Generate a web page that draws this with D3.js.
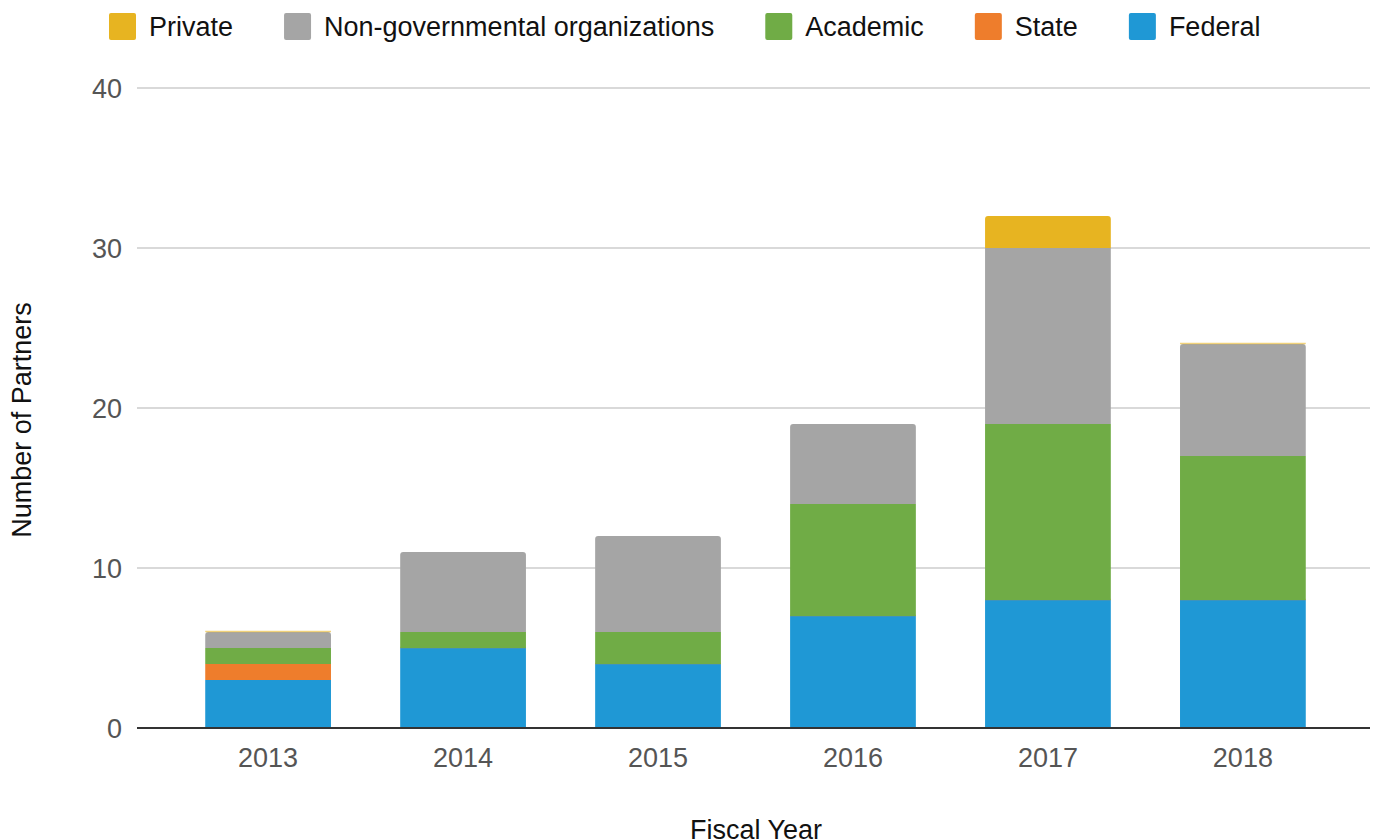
<!DOCTYPE html>
<html>
<head>
<meta charset="utf-8">
<script src="https://cdn.jsdelivr.net/npm/d3@7"></script>
<style>
  body { margin: 0; background: #fff; }
  text { font-family: "Liberation Sans", Arial, sans-serif; }
</style>
</head>
<body>
<script>
// data
var years = ["2013", "2014", "2015", "2016", "2017", "2018"];
var federal = [3, 5, 4, 7, 8, 8];
var state = [1, 0, 0, 0, 0, 0];
var academic = [1, 1, 2, 7, 11, 9];
var ngo = [1, 5, 6, 5, 11, 7];
var privateP = [0, null, null, null, 2, 0];
var yTicks = [0, 10, 20, 30, 40];

var seriesNames = ["Federal", "State", "Academic", "Non-governmental organizations", "Private"];
var seriesValues = [federal, state, academic, ngo, privateP];
var colors = ["#1f98d5", "#ee7d2c", "#70ac46", "#a5a5a5", "#e7b421"];
var legendOrder = [4, 3, 2, 1, 0];

var width = 1380, height = 840;
var plotLeft = 137, plotRight = 1374, plotTop = 88, plotBottom = 728;
var fontSize = 27;

var svg = d3.select("body").append("svg")
  .attr("width", width)
  .attr("height", height);

var x = d3.scaleBand()
  .domain(years)
  .range([plotLeft, plotRight])
  .paddingInner(0.355)
  .paddingOuter(0.35);

var y = d3.scaleLinear()
  .domain([0, 40])
  .range([plotBottom, plotTop]);

// gridlines
svg.append("g")
  .selectAll("line")
  .data(yTicks.filter(function(d) { return d > 0; }))
  .enter().append("line")
  .attr("x1", plotLeft)
  .attr("x2", 1370)
  .attr("y1", function(d) { return y(d); })
  .attr("y2", function(d) { return y(d); })
  .attr("stroke", "#d9d9d9")
  .attr("stroke-width", 2);

// y tick labels
svg.append("g")
  .selectAll("text")
  .data(yTicks)
  .enter().append("text")
  .attr("x", 122)
  .attr("y", function(d) { return y(d) + 9.5; })
  .attr("text-anchor", "end")
  .attr("font-size", fontSize)
  .attr("fill", "#555")
  .text(function(d) { return d; });

// build stacked rows
var rows = years.map(function(yr, i) {
  var base = 0;
  var segs = [];
  seriesValues.forEach(function(vals, s) {
    var v = vals[i];
    if (v === null) return;
    segs.push({ s: s, y0: base, y1: base + v, v: v });
    base += v;
  });
  // mark top non-zero segment
  for (var k = segs.length - 1; k >= 0; k--) {
    if (segs[k].v > 0) { segs[k].top = true; break; }
  }
  return { year: yr, segs: segs };
});

function topRounded(x0, y0, w, h, r) {
  return "M" + x0 + "," + (y0 + h) +
    "V" + (y0 + r) +
    "Q" + x0 + "," + y0 + " " + (x0 + r) + "," + y0 +
    "H" + (x0 + w - r) +
    "Q" + (x0 + w) + "," + y0 + " " + (x0 + w) + "," + (y0 + r) +
    "V" + (y0 + h) + "Z";
}

var bw = x.bandwidth();
rows.forEach(function(row) {
  var g = svg.append("g");
  row.segs.forEach(function(seg) {
    var x0 = x(row.year);
    var yTop = y(seg.y1), yBot = y(seg.y0);
    if (seg.v === 0) {
      // empty category still shows a hairline
      g.append("line")
        .attr("x1", x0).attr("x2", x0 + bw)
        .attr("y1", yTop - 0.5).attr("y2", yTop - 0.5)
        .attr("stroke", colors[seg.s])
        .attr("stroke-opacity", 0.6)
        .attr("stroke-width", 1.5);
    } else if (seg.top) {
      g.append("path")
        .attr("d", topRounded(x0, yTop, bw, yBot - yTop, 3))
        .attr("fill", colors[seg.s]);
    } else {
      g.append("rect")
        .attr("x", x0)
        .attr("y", yTop)
        .attr("width", bw)
        .attr("height", yBot - yTop)
        .attr("fill", colors[seg.s]);
    }
  });
});

// baseline
svg.append("line")
  .attr("x1", plotLeft).attr("x2", 1370)
  .attr("y1", plotBottom).attr("y2", plotBottom)
  .attr("stroke", "#333")
  .attr("stroke-width", 2);

// x tick labels
svg.append("g")
  .selectAll("text")
  .data(years)
  .enter().append("text")
  .attr("x", function(d) { return x(d) + bw / 2; })
  .attr("y", 767)
  .attr("text-anchor", "middle")
  .attr("font-size", fontSize)
  .attr("fill", "#555")
  .text(function(d) { return d; });

// axis titles
svg.append("text")
  .attr("x", 756)
  .attr("y", 839)
  .attr("text-anchor", "middle")
  .attr("font-size", fontSize)
  .attr("fill", "#111")
  .text("Fiscal Year");

svg.append("text")
  .attr("transform", "translate(31,420) rotate(-90)")
  .attr("text-anchor", "middle")
  .attr("font-size", fontSize)
  .attr("fill", "#111")
  .text("Number of Partners");

// legend
var lx = 109;
legendOrder.forEach(function(s) {
  var g = svg.append("g");
  g.append("rect")
    .attr("x", lx).attr("y", 13)
    .attr("width", 27).attr("height", 27)
    .attr("rx", 2)
    .attr("fill", colors[s]);
  var t = g.append("text")
    .attr("x", lx + 40)
    .attr("y", 36)
    .attr("font-size", fontSize)
    .attr("fill", "#111")
    .text(seriesNames[s]);
  lx += 40 + t.node().getComputedTextLength() + 51;
});
</script>
</body>
</html>
